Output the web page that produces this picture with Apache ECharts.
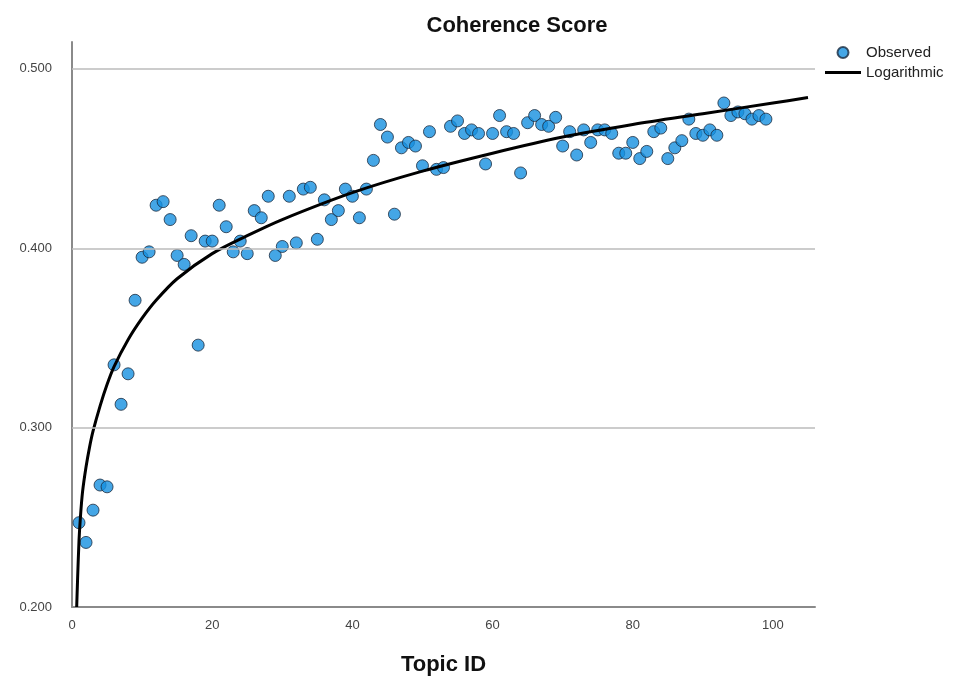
<!DOCTYPE html>
<html>
<head>
<meta charset="utf-8">
<script src="https://cdn.jsdelivr.net/npm/echarts@6/dist/echarts.min.js"></script>
<style>html,body{margin:0;padding:0;background:#fff}#chart{width:963px;height:677px}</style>
</head>
<body>
<div id="chart"></div>
<script>
// Topic IDs and observed coherence scores
const topicIds = [1,2,3,4,5,6,7,8,9,10,11,12,13,14,15,16,17,18,19,20,21,22,23,24,25,26,27,28,29,30,31,32,33,34,35,36,37,38,39,40,41,42,43,44,45,46,47,48,49,50,51,52,53,54,55,56,57,58,59,60,61,62,63,64,65,66,67,68,69,70,71,72,73,74,75,76,77,78,79,80,81,82,83,84,85,86,87,88,89,90,91,92,93,94,95,96,97,98,99];
const observed = [0.247,0.236,0.254,0.268,0.267,0.335,0.313,0.330,0.371,0.395,0.398,0.424,0.426,0.416,0.396,0.391,0.407,0.346,0.404,0.404,0.424,0.412,0.398,0.404,0.397,0.421,0.417,0.429,0.396,0.401,0.429,0.403,0.433,0.434,0.405,0.427,0.416,0.421,0.433,0.429,0.417,0.433,0.449,0.469,0.462,0.419,0.456,0.459,0.457,0.446,0.465,0.444,0.445,0.468,0.471,0.464,0.466,0.464,0.447,0.464,0.474,0.465,0.464,0.442,0.470,0.474,0.469,0.468,0.473,0.457,0.465,0.452,0.466,0.459,0.466,0.466,0.464,0.453,0.453,0.459,0.450,0.454,0.465,0.467,0.450,0.456,0.460,0.472,0.464,0.463,0.466,0.463,0.481,0.474,0.476,0.475,0.472,0.474,0.472];
// Logarithmic fit curve
const curveX = [0.67,0.8,1,1.2,1.5,2,2.5,3,4,5,6,8,10,12,15,20,25,30,40,50,60,70,80,90,100,105];
const curveY = [0.200,0.216,0.237,0.250,0.264,0.278,0.289,0.298,0.312,0.324,0.334,0.349,0.361,0.371,0.383,0.397,0.407,0.416,0.431,0.443,0.453,0.462,0.469,0.475,0.481,0.484];
// Axis ticks
const yGridTicks = [0.3,0.4,0.5];

const chart = echarts.init(document.getElementById('chart'));
const font = 'Liberation Sans, Arial, sans-serif';
chart.setOption({
  animation: false,
  backgroundColor: '#fff',
  title: {
    text: 'Coherence Score',
    left: 512, top: 10, textAlign: 'center',
    textStyle: {fontFamily: font, fontSize: 22, fontWeight: 'bold', color: '#111'}
  },
  legend: {
    orient: 'vertical', left: 825, top: 45, padding: 0,
    itemWidth: 36, itemHeight: 11, itemGap: 5,
    textStyle: {fontFamily: font, fontSize: 15, color: '#222'},
    data: [
      {name: 'Observed', icon: 'circle'},
      {name: 'Logarithmic', icon: 'path://M0,0H36V3H0Z'}
    ]
  },
  grid: {left: 72, right: 148, top: 42, bottom: 70, containLabel: false, outerBoundsMode: 'none'},
  xAxis: {
    type: 'value', min: 0, max: 106, interval: 20,
    name: 'Topic ID', nameLocation: 'middle', nameGap: 47,
    nameTextStyle: {fontFamily: font, fontSize: 22, fontWeight: 'bold', color: '#111'},
    axisLine: {show: true, lineStyle: {color: '#8a8a8a', width: 2}},
    axisTick: {show: false},
    splitLine: {show: false},
    axisLabel: {showMaxLabel: false, margin: 12, fontFamily: font, fontSize: 13, color: '#444'}
  },
  yAxis: {
    type: 'value', min: 0.2, max: 0.515, interval: 0.1,
    axisLine: {show: true, onZero: false, lineStyle: {color: '#8a8a8a', width: 2}},
    axisTick: {show: false},
    splitLine: {show: false},
    axisLabel: {showMaxLabel: false, margin: 20, fontFamily: font, fontSize: 13, color: '#444',
      formatter: v => v.toFixed(3)}
  },
  series: [
    {
      name: 'Observed', type: 'scatter', z: 3,
      symbol: 'circle', symbolSize: 12,
      itemStyle: {color: '#1590e0', borderColor: '#1b2c40', borderWidth: 1},
      data: topicIds.map((x, i) => [x, observed[i]]),
      markLine: {
        silent: true, symbol: 'none', label: {show: false},
        lineStyle: {color: '#bbb', width: 1.5, type: 'solid'},
        data: yGridTicks.map(v => ({yAxis: v}))
      }
    },
    {
      name: 'Logarithmic', type: 'line', z: 4,
      symbol: 'none', smooth: 0.3,
      lineStyle: {color: '#000', width: 3},
      itemStyle: {color: '#000'},
      data: curveX.map((x, i) => [x, curveY[i]])
    }
  ]
});
</script>
</body>
</html>
